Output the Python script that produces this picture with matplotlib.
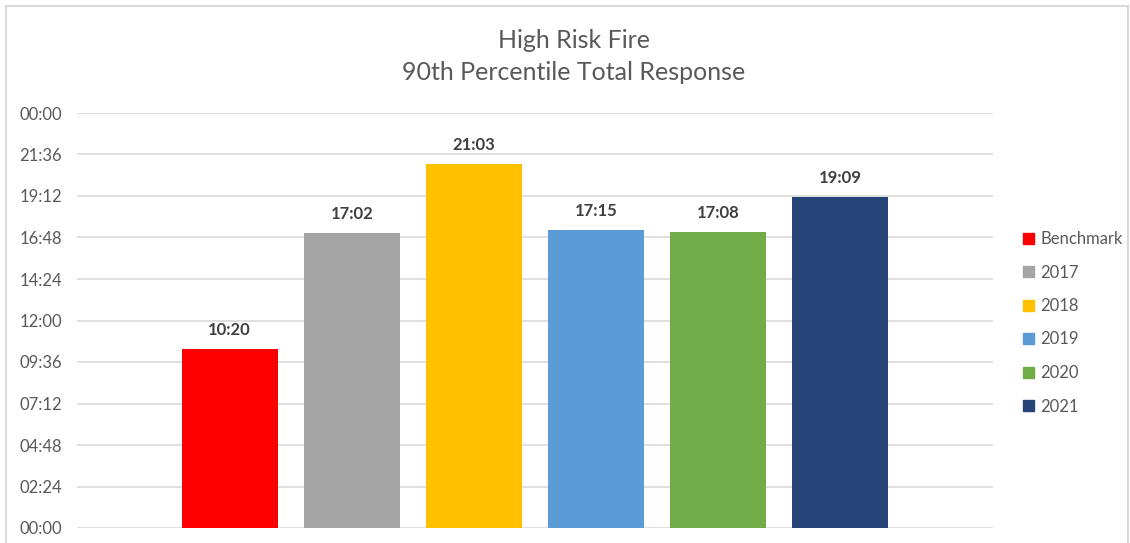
import matplotlib
matplotlib.use("Agg")
import matplotlib.pyplot as plt
from matplotlib.patches import Rectangle

plt.rcParams['font.family'] = ['Lato', 'DejaVu Sans']

# Response times in minutes:seconds
series = ["Benchmark", "2017", "2018", "2019", "2020", "2021"]
labels = ["10:20", "17:02", "21:03", "17:15", "17:08", "19:09"]
colors = ["#FF0000", "#A5A5A5", "#FFC000", "#5B9BD5", "#70AD47", "#264478"]

tick_values = [0, 2.4, 4.8, 7.2, 9.6, 12.0, 14.4, 16.8, 19.2, 21.6, 24.0]
tick_labels = ["00:00", "02:24", "04:48", "07:12", "09:36", "12:00",
               "14:24", "16:48", "19:12", "21:36", "00:00"]


def to_minutes(s):
    m, sec = s.split(":")
    return int(m) + int(sec) / 60.0


values = [to_minutes(s) for s in labels]

W, H = 1130, 543
fig = plt.figure(figsize=(W / 100, H / 100), dpi=100)
fig.patch.set_facecolor("white")

# chart-area border
fig.patches.append(Rectangle((6 / W, -0.01), (1128 - 6) / W, (H - 6) / H + 0.01,
                             transform=fig.transFigure, fill=False,
                             edgecolor="#D9D9D9", linewidth=1.5))

ax = fig.add_axes([77 / W, 15 / H, (993 - 77) / W, (528 - 113) / H])
x = list(range(len(series)))
ax.bar(x, values, width=0.787, color=colors, zorder=3)
handles = []
for xi, v, lab, c, name in zip(x, values, labels, colors, series):
    ax.annotate(lab, (xi, v), xytext=(0, 8), textcoords="offset points",
                ha="center", va="bottom", fontsize=12, fontweight="bold",
                color="#404040")
    handles.append(Rectangle((0, 0), 1, 1, color=c, label=name))

ax.set_xlim(-1.25, 6.25)
ax.set_ylim(0, 24)
ax.set_yticks(tick_values)
ax.set_yticklabels(tick_labels)
ax.set_xticks([])
ax.tick_params(axis="y", length=0, pad=11, labelsize=12, labelcolor="#595959")
for s in ax.spines.values():
    s.set_visible(False)
ax.grid(axis="y", color="#D9D9D9", linewidth=1.2, zorder=0)
ax.set_axisbelow(True)

fig.text(574 / W, 1 - 40 / H, "High Risk Fire", ha="center", va="center",
         fontsize=18, color="#595959")
fig.text(574 / W, 1 - 73 / H, "90th Percentile Total Response", ha="center",
         va="center", fontsize=18, color="#595959")

leg = fig.legend(handles=handles, loc="upper left",
                 bbox_to_anchor=(1008 / W, 1 - 216 / H), frameon=False,
                 fontsize=12, labelcolor="#595959", handlelength=0.65,
                 handleheight=0.65, handletextpad=0.4, labelspacing=1.05)

fig.savefig("out.png", dpi=100, facecolor="white")
